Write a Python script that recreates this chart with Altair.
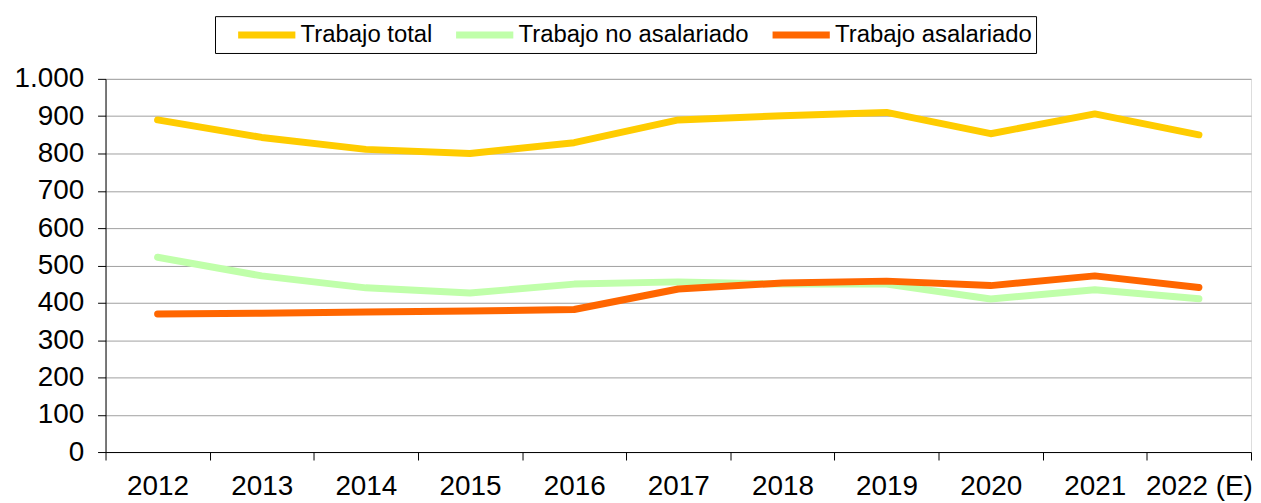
import altair as alt
import pandas as pd

years = ["2012", "2013", "2014", "2015", "2016", "2017", "2018", "2019", "2020", "2021", "2022 (E)"]
trabajo_total = [890, 843, 811, 800, 829, 890, 901, 910, 853, 906, 850]
trabajo_no_asalariado = [522, 472, 440, 426, 450, 456, 450, 450, 410, 435, 411]
trabajo_asalariado = [370, 372, 375, 378, 382, 437, 453, 458, 446, 472, 441]

series_names = ["Trabajo total", "Trabajo no asalariado", "Trabajo asalariado"]
series_colors = ["#FFCC00", "#C0FFAA", "#FF6600"]

rows = []
for name, vals in zip(series_names, [trabajo_total, trabajo_no_asalariado, trabajo_asalariado]):
    for y, v in zip(years, vals):
        rows.append({"year": y, "value": v, "serie": name})
df = pd.DataFrame(rows)

FONT = "Liberation Sans"

chart = alt.Chart(df).mark_line(strokeWidth=7, strokeCap="round", strokeJoin="round").encode(
    x=alt.X("year:N", sort=years, title=None,
            scale=alt.Scale(paddingInner=0, paddingOuter=0),
            axis=alt.Axis(labelAngle=0, tickBand="extent", tickSize=8, tickColor="#000",
                          domainColor="#000", labelFontSize=28, labelFont=FONT,
                          labelColor="#000", labelPadding=13, grid=False)),
    y=alt.Y("value:Q", title=None,
            scale=alt.Scale(domain=[0, 1000], nice=False),
            axis=alt.Axis(values=list(range(0, 1001, 100)), tickSize=8, tickColor="#000",
                          domainColor="#000", labelFontSize=28, labelFont=FONT,
                          labelColor="#000", labelPadding=14,
                          labelExpr="replace(datum.label, ',', '.')",
                          gridColor="#A0A0A0", gridWidth=1)),
    color=alt.Color("serie:N", sort=series_names,
                    scale=alt.Scale(domain=series_names, range=series_colors),
                    legend=alt.Legend(title=None, orient="none", direction="horizontal",
                                      legendX=110, legendY=-63,
                                      symbolType="M-2.5,0H2.5", symbolStrokeWidth=7,
                                      symbolSize=529, symbolOffset=33,
                                      labelFontSize=24, labelFont=FONT,
                                      labelColor="#000", labelOffset=19, columnPadding=4,
                                      padding=4, strokeColor="#000", fillColor="#fff",
                                      labelLimit=400)),
    order=alt.Order("serie_order:Q"),
).transform_calculate(
    serie_order="indexof(['Trabajo total','Trabajo no asalariado','Trabajo asalariado'], datum.serie)"
).properties(
    width=1151, height=375,
    autosize=alt.AutoSizeParams(type="none"),
    padding={"left": 98, "top": 70, "right": 2, "bottom": 48},
).configure_view(stroke="#000", strokeWidth=1).configure(background="#fff")

chart.save("out.html", embed_options={"renderer": "svg", "actions": False})
